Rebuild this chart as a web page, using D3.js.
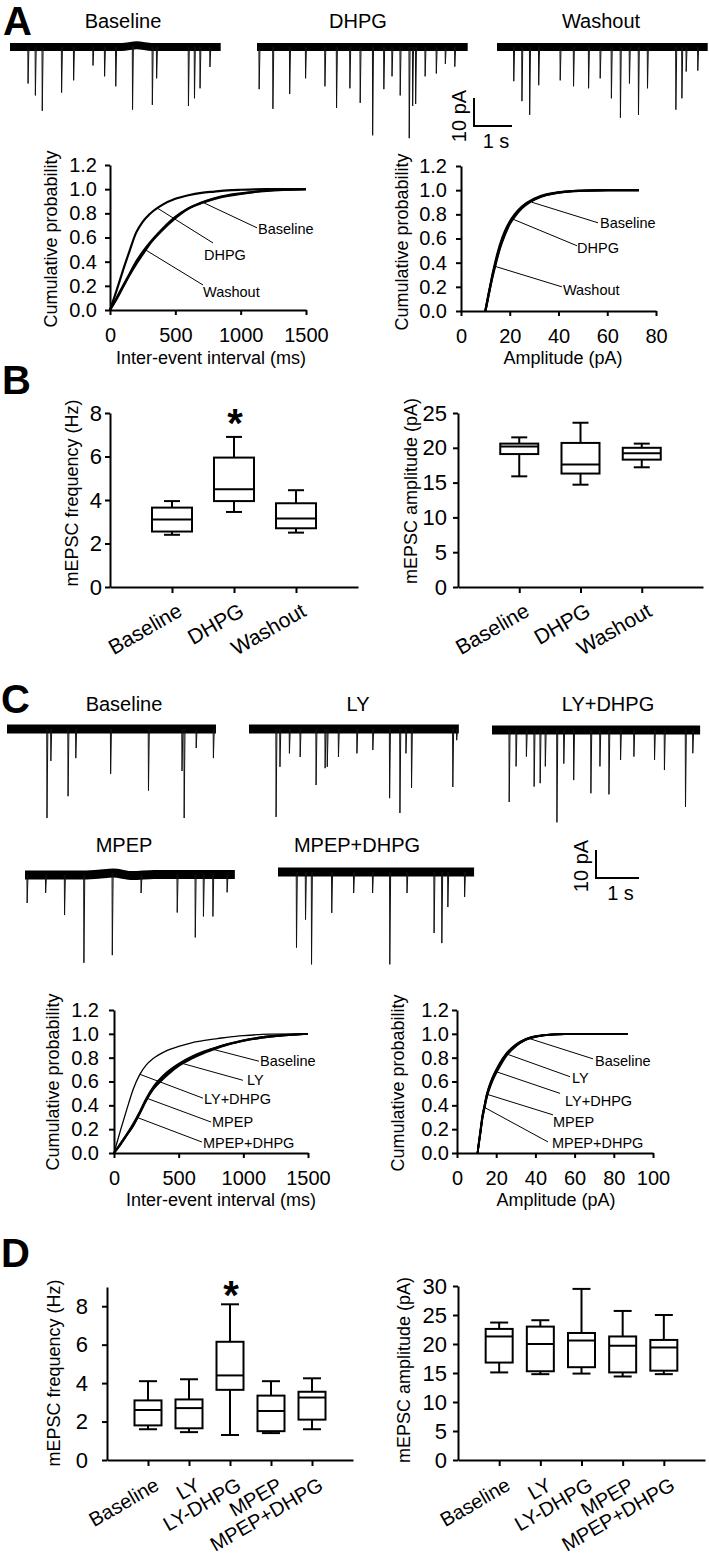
<!DOCTYPE html>
<html>
<head>
<meta charset="utf-8">
<script src="https://cdn.jsdelivr.net/npm/d3@7"></script>
<style>
  body { margin: 0; background: #fff; }
  svg text { font-family: "Liberation Sans", Arial, Helvetica, sans-serif; fill: #000; }
</style>
</head>
<body>
<svg id="figure" width="709" height="1557"></svg>
<script>
// ---------- data ----------

// example traces: events as [time (s), amplitude (pA)], drift as [time (s), offset (pA)]
const A_TRACE_NAMES = ['Baseline', 'DHPG', 'Washout'];
const A_DURATIONS = [4.9, 4.9, 4.9];
const A_BASELINE_EVENTS = [[0.42,12.8],[0.59,17],[0.75,22.4],[1.2,16],[1.48,11.7],[1.93,6.5],[2.2,10.3],[2.46,13.8],[2.85,22.4],[3.31,20.3],[3.41,11],[4.15,20.7],[4.29,18],[4.42,14.5],[4.65,7]];
const A_DHPG_EVENTS = [[0.05,14.8],[0.37,21.7],[0.76,16.5],[1.13,11],[1.58,13.8],[1.85,21.4],[2.16,14.5],[2.4,19.6],[2.69,31],[2.95,14.8],[3.14,10.3],[3.33,17],[3.54,32],[3.62,20.7],[3.69,20],[3.91,10.3],[4.17,9.3],[4.38,5.9],[4.6,6.9]];
const A_WASHOUT_EVENTS = [[0.39,12],[0.58,19],[0.76,23.8],[0.97,13.4],[1.47,11.7],[1.78,13.8],[2.13,14.5],[2.4,11],[2.66,18],[2.87,24.8],[3.08,12.8],[3.29,23.8],[3.5,14.5],[4.16,22],[4.3,18],[4.4,8.6],[4.67,8.3]];
const A_BASELINE_DRIFT = [[0,0],[2.6,0],[2.95,0.6],[3.3,0],[4.9,0]];
const A_FLAT_DRIFT = [[0,0],[4.9,0]];

const C_TRACE_NAMES = ['Baseline', 'LY', 'LY+DHPG', 'MPEP', 'MPEP+DHPG'];
const C_DURATIONS = [4.86, 4.88, 4.84, 4.88, 4.56];
const C_BASELINE_EVENTS = [[0.93,31.8],[1.02,11.4],[1.42,24],[1.6,10.4],[2.41,16],[3.29,22],[4.07,15],[4.12,31.8],[4.4,6.8],[4.8,10.4]];
const C_LY_EVENTS = [[0.63,31.4],[0.72,13.5],[0.94,8.7],[1.19,10],[1.56,20],[1.77,14],[1.82,13.5],[2.08,10],[2.51,8.7],[2.88,7.5],[3.27,24.7],[3.51,30],[3.65,8.7],[3.78,21],[4.74,20.7],[4.83,4]];
const C_LYDHPG_EVENTS = [[0.4,25.7],[0.56,13],[0.8,9.5],[0.98,20.2],[1.12,19],[1.24,13],[1.51,33],[1.67,12],[1.9,17.9],[2.3,22.6],[2.51,13],[2.72,23],[2.99,10.7],[3.3,9.5],[3.78,10.7],[4.01,14.3],[4.5,27.5],[4.67,8.3]];
const C_MPEP_EVENTS = [[0.05,10],[0.48,6.4],[0.92,14.3],[1.37,31.4],[2.03,29.3],[2.7,6.4],[3.54,13.6],[3.96,22.5],[4.15,15],[4.37,15],[4.7,6.4]];
const C_MPEPDHPG_EVENTS = [[0.43,27],[0.64,17],[0.78,33],[1.25,14.6],[1.76,7.5],[2.2,7.5],[2.6,33],[3.0,7.5],[3.63,21.8],[3.81,25.4],[3.95,12.5],[4.34,8.9]];
const C_MPEP_DRIFT = [[0,0],[1.3,0],[1.7,0.3],[2.05,0.7],[2.5,-0.2],[3.0,0.2],[4.88,0.2]];

// cumulative probability curves
const CUM_TICKS = [0, 0.2, 0.4, 0.6, 0.8, 1.0, 1.2];
const A_IEI_MS = [0, 50, 100, 150, 200, 250, 300, 400, 500, 600, 700, 800, 900, 1000, 1200, 1500];
const A_IEI_BASELINE = [0, 0.09, 0.19, 0.29, 0.38, 0.46, 0.54, 0.66, 0.76, 0.84, 0.89, 0.925, 0.95, 0.965, 0.985, 1.0];
const A_IEI_DHPG     = [0, 0.16, 0.33, 0.49, 0.64, 0.73, 0.79, 0.87, 0.92, 0.95, 0.97, 0.98, 0.99, 0.995, 1.0, 1.0];
const A_IEI_WASHOUT  = [0, 0.1, 0.2, 0.3, 0.4, 0.48, 0.55, 0.67, 0.77, 0.84, 0.885, 0.92, 0.945, 0.96, 0.99, 1.0];

const A_AMP_PA = [10, 11, 12, 13, 14, 15, 16, 18, 20, 22, 25, 30, 35, 40, 50, 60, 73];
const A_AMP_BASELINE = [0, 0.1, 0.2, 0.3, 0.38, 0.46, 0.53, 0.64, 0.73, 0.79, 0.86, 0.925, 0.96, 0.98, 0.995, 1.0, 1.0];
const A_AMP_DHPG     = [0, 0.11, 0.21, 0.31, 0.4, 0.48, 0.55, 0.66, 0.74, 0.8, 0.865, 0.93, 0.965, 0.983, 0.996, 1.0, 1.0];
const A_AMP_WASHOUT  = [0, 0.1, 0.2, 0.29, 0.37, 0.45, 0.52, 0.63, 0.72, 0.78, 0.85, 0.92, 0.96, 0.98, 0.995, 1.0, 1.0];

const C_IEI_MS = [0, 50, 100, 150, 200, 250, 300, 400, 500, 600, 700, 800, 900, 1000, 1200, 1500];
const C_IEI_BASELINE  = [0, 0.07, 0.15, 0.23, 0.33, 0.44, 0.53, 0.64, 0.73, 0.79, 0.84, 0.88, 0.915, 0.94, 0.975, 1.0];
const C_IEI_LY        = [0, 0.08, 0.16, 0.24, 0.34, 0.45, 0.54, 0.66, 0.74, 0.8, 0.85, 0.89, 0.92, 0.945, 0.98, 1.0];
const C_IEI_LYDHPG    = [0, 0.19, 0.37, 0.54, 0.66, 0.74, 0.79, 0.855, 0.895, 0.925, 0.945, 0.96, 0.975, 0.985, 0.997, 1.0];
const C_IEI_MPEP      = [0, 0.07, 0.15, 0.23, 0.34, 0.45, 0.53, 0.65, 0.735, 0.8, 0.845, 0.885, 0.915, 0.94, 0.975, 1.0];
const C_IEI_MPEPDHPG  = [0, 0.08, 0.16, 0.25, 0.35, 0.46, 0.55, 0.67, 0.75, 0.81, 0.855, 0.89, 0.92, 0.945, 0.98, 1.0];

const C_AMP_PA = [10.5, 11, 12, 13, 14, 15, 16, 18, 20, 22, 25, 30, 35, 40, 50, 60, 87];
const C_AMP_BASELINE = [0, 0.06, 0.18, 0.3, 0.38, 0.46, 0.52, 0.61, 0.68, 0.74, 0.82, 0.9, 0.95, 0.975, 0.995, 1.0, 1.0];
const C_AMP_LY       = [0, 0.07, 0.19, 0.31, 0.39, 0.47, 0.53, 0.62, 0.69, 0.75, 0.83, 0.905, 0.955, 0.978, 0.996, 1.0, 1.0];
const C_AMP_LYDHPG   = [0, 0.06, 0.17, 0.29, 0.37, 0.45, 0.51, 0.6, 0.67, 0.73, 0.81, 0.895, 0.948, 0.975, 0.995, 1.0, 1.0];
const C_AMP_MPEP     = [0, 0.07, 0.2, 0.32, 0.4, 0.48, 0.54, 0.63, 0.7, 0.76, 0.83, 0.91, 0.955, 0.98, 0.996, 1.0, 1.0];
const C_AMP_MPEPDHPG = [0, 0.06, 0.18, 0.3, 0.39, 0.47, 0.53, 0.62, 0.69, 0.75, 0.82, 0.9, 0.95, 0.976, 0.995, 1.0, 1.0];

// box plots: whisker min, Q1, median, Q3, whisker max
const B_GROUPS = ['Baseline', 'DHPG', 'Washout'];
const B_FREQ_MIN = [2.4, 3.45, 2.5];
const B_FREQ_Q1  = [2.55, 3.95, 2.7];
const B_FREQ_MED = [3.1, 4.5, 3.15];
const B_FREQ_Q3  = [3.65, 5.95, 3.85];
const B_FREQ_MAX = [3.95, 6.9, 4.45];
const B_AMP_MIN = [15.9, 14.7, 17.2];
const B_AMP_Q1  = [19.1, 16.3, 18.3];
const B_AMP_MED = [20.2, 17.6, 19.2];
const B_AMP_Q3  = [20.6, 20.7, 20.0];
const B_AMP_MAX = [21.5, 23.6, 20.6];

const D_GROUPS = ['Baseline', 'LY', 'LY-DHPG', 'MPEP', 'MPEP+DHPG'];
const D_FREQ_MIN = [1.6, 1.45, 1.3, 1.4, 1.6];
const D_FREQ_Q1  = [1.8, 1.65, 3.65, 1.5, 2.1];
const D_FREQ_MED = [2.6, 2.7, 4.4, 2.55, 3.25];
const D_FREQ_Q3  = [3.1, 3.15, 6.15, 3.35, 3.55];
const D_FREQ_MAX = [4.1, 4.2, 8.1, 4.1, 4.25];
const D_AMP_MIN = [15.1, 14.8, 14.9, 14.4, 14.8];
const D_AMP_Q1  = [16.8, 15.3, 16.0, 15.1, 15.4];
const D_AMP_MED = [21.3, 20.0, 20.6, 19.7, 19.4];
const D_AMP_Q3  = [22.6, 23.0, 21.9, 21.3, 20.7];
const D_AMP_MAX = [23.7, 24.1, 29.5, 25.7, 25.0];

// ---------- drawing ----------
const svg = d3.select('#figure');

function addText(g, x, y, txt, size, extra) {
  const t = g.append('text').attr('x', x).attr('y', y).attr('font-size', size).text(txt);
  if (extra) Object.entries(extra).forEach(([k, v]) => t.attr(k, v));
  return t;
}

function vTitle(g, xBase, yMid, txt, size) {
  g.append('text')
    .attr('transform', `translate(${xBase},${yMid}) rotate(-90)`)
    .attr('text-anchor', 'middle')
    .attr('font-size', size)
    .text(txt);
}

function styleAxis(g, size) {
  g.attr('font-family', null).attr('font-size', null);
  g.select('.domain').attr('stroke-width', 2);
  g.selectAll('.tick line').attr('stroke-width', 2);
  g.selectAll('.tick text').attr('font-size', size).attr('fill', '#000');
}

// panel letters
[['A', 3, 35], ['B', 2, 394], ['C', 1, 713], ['D', 1, 1267]].forEach(([l, x, y]) =>
  addText(svg, x, y, l, 40, {'font-weight': 'bold'}));

function drawTrace(g, tr) {
  const x = d3.scaleLinear().domain([0, tr.dur]).range([tr.x0, tr.x0 + tr.dur * tr.pxPerS]);
  const y = d3.scaleLinear().domain([0, -10]).range([tr.y0, tr.y0 + tr.px10pA]);
  const drift = tr.drift || [[0, 0], [tr.dur, 0]];
  const base = d3.scaleLinear().domain(drift.map(d => d[0])).range(drift.map(d => d[1]));
  const line = d3.line().x(d => x(d[0])).y(d => y(d[1]));

  g.append('path').attr('d', line.curve(d3.curveMonotoneX)(drift))
    .attr('fill', 'none').attr('stroke', '#000').attr('stroke-width', tr.band);
  line.curve(d3.curveLinear);

  g.append('g').selectAll('path').data(tr.events).join('path')
    .attr('d', d => line([[d[0] - 0.006, base(d[0])], [d[0], base(d[0]) - d[1]], [d[0] + 0.02, base(d[0])]]))
    .attr('fill', 'none').attr('stroke', '#111').attr('stroke-width', 1);

  addText(g, tr.titleX, tr.titleY, tr.name, 20, {'text-anchor': 'middle'});
}

function scaleBar(g, sb) {
  const x = d3.scaleLinear().domain([0, 1]).range([sb.x, sb.x + sb.pxPerS]);
  const y = d3.scaleLinear().domain([0, 10]).range([sb.y, sb.y - sb.px10pA]);
  g.append('path')
    .attr('d', d3.line()([[x(0), y(10)], [x(0), y(0)], [x(1), y(0)]]))
    .attr('fill', 'none').attr('stroke', '#000').attr('stroke-width', 2);
  vTitle(g, x(0) - 8, sb.labelMid, '10 pA', 20);
  addText(g, (x(0) + x(1)) / 2 + 3, y(0) + 22, '1 s', 20, {'text-anchor': 'middle'});
}

// Panel A traces
const gA = svg.append('g');
[A_BASELINE_EVENTS, A_DHPG_EVENTS, A_WASHOUT_EVENTS].forEach((ev, i) => {
  drawTrace(gA, {
    name: A_TRACE_NAMES[i], events: ev, dur: A_DURATIONS[i],
    drift: i === 0 ? A_BASELINE_DRIFT : A_FLAT_DRIFT,
    x0: [10, 257, 497][i], y0: 47, pxPerS: 43, px10pA: 28.5, band: 8,
    titleX: [123, 358, 601][i], titleY: 28
  });
});
scaleBar(gA, {x: 474, y: 126, pxPerS: 38, px10pA: 28, labelMid: 116});

// Panel C traces
const gC = svg.append('g');
[C_BASELINE_EVENTS, C_LY_EVENTS, C_LYDHPG_EVENTS, C_MPEP_EVENTS, C_MPEPDHPG_EVENTS].forEach((ev, i) => {
  drawTrace(gC, {
    name: C_TRACE_NAMES[i], events: ev, dur: C_DURATIONS[i],
    drift: i === 3 ? C_MPEP_DRIFT : null,
    x0: [7, 249, 492, 25, 278][i], y0: [729, 729, 730, 875, 872][i],
    pxPerS: 43, px10pA: 28, band: 9,
    titleX: [124, 358, 608, 124, 357][i], titleY: i < 3 ? 711 : 852
  });
});
scaleBar(gC, {x: 596, y: 878, pxPerS: 43, px10pA: 28, labelMid: 866});

// cumulative probability plots
function cumulativeChart(c) {
  const g = svg.append('g');
  const x = d3.scaleLinear().domain(c.xDomain).range(c.xRange);
  const y = d3.scaleLinear().domain([0, 1.2]).range(c.yRange);

  const xa = g.append('g').attr('transform', `translate(0,${c.yRange[0]})`)
    .call(d3.axisBottom(x).tickValues(c.xTicks).tickSize(5).tickSizeOuter(0).tickPadding(13).tickFormat(d3.format('d')));
  styleAxis(xa, 20);
  const ya = g.append('g').attr('transform', `translate(${c.xRange[0]},0)`)
    .call(d3.axisLeft(y).tickValues(CUM_TICKS).tickSize(5).tickSizeOuter(0).tickPadding(c.yPad).tickFormat(d3.format('.1f')));
  styleAxis(ya, 20);

  const line = d3.line().curve(d3.curveMonotoneX).x((d, i) => x(c.grid[i])).y(d => y(d));
  c.series.forEach((s, i) => g.append('path').attr('d', line(s))
    .attr('fill', 'none').attr('stroke', '#000').attr('stroke-width', c.widths[i]).attr('stroke-linejoin', 'round'));

  c.labels.forEach(([txt, x1, y1, x2, y2, dx, dy]) => {
    g.append('line').attr('x1', x(x1)).attr('y1', y(y1)).attr('x2', x(x2)).attr('y2', y(y2))
      .attr('stroke', '#000').attr('stroke-width', 1);
    addText(g, x(x2) + dx, y(y2) + dy, txt, 14.5);
  });

  vTitle(g, c.yTitleX, c.yTitleMid, 'Cumulative probability', 18);
  addText(g, c.xTitleMid, c.xTitleY, c.xTitle, 18, {'text-anchor': 'middle'});
}

cumulativeChart({
  xDomain: [0, 1500], xRange: [110, 306], yRange: [310, 165], xTicks: [0, 500, 1000, 1500], yPad: 8,
  grid: A_IEI_MS, series: [A_IEI_BASELINE, A_IEI_DHPG, A_IEI_WASHOUT], widths: [2.2, 2.2, 2.2],
  labels: [['Baseline', 712, 0.89, 1125, 0.68, 1, 6], ['DHPG', 360, 0.845, 788, 0.555, -9, 17], ['Washout', 268, 0.5, 712, 0.207, 0, 12]],
  yTitleX: 57, yTitleMid: 239, xTitle: 'Inter-event interval (ms)', xTitleMid: 211, xTitleY: 364
});
cumulativeChart({
  xDomain: [0, 80], xRange: [461, 656], yRange: [311, 166], xTicks: [0, 20, 40, 60, 80], yPad: 9,
  grid: A_AMP_PA, series: [A_AMP_BASELINE, A_AMP_DHPG, A_AMP_WASHOUT], widths: [2.2, 2.2, 2.2],
  labels: [['Baseline', 29.1, 0.90, 56.2, 0.73, 2, 5], ['DHPG', 21.3, 0.76, 47.6, 0.54, 0, 7], ['Washout', 13.9, 0.37, 41.4, 0.20, 1, 8]],
  yTitleX: 408, yTitleMid: 242, xTitle: 'Amplitude (pA)', xTitleMid: 563, xTitleY: 364
});
cumulativeChart({
  xDomain: [0, 1500], xRange: [114, 308], yRange: [1153, 1010], xTicks: [0, 500, 1000, 1500], yPad: 10,
  grid: C_IEI_MS, series: [C_IEI_BASELINE, C_IEI_LY, C_IEI_MPEP, C_IEI_MPEPDHPG, C_IEI_LYDHPG], widths: [1.7, 1.7, 1.7, 1.7, 1.3],
  labels: [['Baseline', 766, 0.87, 1121, 0.77, 1, 5], ['LY', 534, 0.75, 997, 0.61, 4, 5], ['LY+DHPG', 201, 0.66, 688, 0.46, 1, 6],
           ['MPEP', 252, 0.46, 750, 0.26, 1, 5], ['MPEP+DHPG', 175, 0.3, 680, 0.092, 1, 6]],
  yTitleX: 59, yTitleMid: 1082, xTitle: 'Inter-event interval (ms)', xTitleMid: 221, xTitleY: 1206
});
cumulativeChart({
  xDomain: [0, 100], xRange: [457, 653], yRange: [1153, 1010], xTicks: [0, 20, 40, 60, 80, 100], yPad: 3,
  grid: C_AMP_PA, series: [C_AMP_BASELINE, C_AMP_LY, C_AMP_LYDHPG, C_AMP_MPEP, C_AMP_MPEPDHPG], widths: [1.8, 1.8, 1.8, 1.8, 1.8],
  labels: [['Baseline', 37, 0.96, 69.4, 0.79, 2, 7], ['LY', 25.5, 0.83, 57.7, 0.64, 2, 6], ['LY+DHPG', 20.4, 0.68, 52.6, 0.5, 5, 13],
           ['MPEP', 15.8, 0.49, 49, 0.32, 0, 12], ['MPEP+DHPG', 14.3, 0.38, 46.4, 0.093, 4, 6]],
  yTitleX: 404, yTitleMid: 1083, xTitle: 'Amplitude (pA)', xTitleMid: 556, xTitleY: 1206
});

// box plots
function boxChart(c) {
  const g = svg.append('g');
  const x = d3.scalePoint().domain(c.groups).range(c.xRange).padding(1);
  const y = d3.scaleLinear().domain(c.yDomain).range(c.yRange);

  const xa = g.append('g').attr('transform', `translate(0,${c.yRange[0]})`)
    .call(d3.axisBottom(x).tickSize(6).tickSizeOuter(0));
  styleAxis(xa, c.xFont);
  xa.selectAll('.tick text')
    .attr('y', 0).attr('dy', null).attr('text-anchor', 'end')
    .attr('transform', `translate(${c.lblDx},${c.lblDy}) rotate(-30)`);

  const ya = g.append('g').attr('transform', `translate(${c.xRange[0]},0)`)
    .call(d3.axisLeft(y).tickValues(c.yTicks).tickSize(5).tickSizeOuter(0).tickPadding(c.yPad));
  styleAxis(ya, 22);

  c.groups.forEach((grp, i) => {
    const cx = x(grp);
    const st = {min: c.min[i], q1: c.q1[i], med: c.med[i], q3: c.q3[i], max: c.max[i]};
    const seg = (x1, y1, x2, y2) => g.append('line').attr('x1', x1).attr('y1', y1).attr('x2', x2).attr('y2', y2)
      .attr('stroke', '#000').attr('stroke-width', 2);
    seg(cx, y(st.min), cx, y(st.q1));
    seg(cx, y(st.q3), cx, y(st.max));
    seg(cx - c.capW / 2, y(st.min), cx + c.capW / 2, y(st.min));
    seg(cx - c.capW / 2, y(st.max), cx + c.capW / 2, y(st.max));
    g.append('rect').attr('x', cx - c.boxW / 2).attr('y', y(st.q3))
      .attr('width', c.boxW).attr('height', y(st.q1) - y(st.q3))
      .attr('fill', '#fff').attr('stroke', '#000').attr('stroke-width', 2);
    seg(cx - c.boxW / 2, y(st.med), cx + c.boxW / 2, y(st.med));
    if (c.star === grp) {
      addText(g, cx + 1, y(st.max) + c.starDy, '*', 40, {'text-anchor': 'middle', 'font-weight': 'bold'});
    }
  });

  vTitle(g, c.yTitleX, c.yTitleMid, c.yTitle, 18);
}

boxChart({
  groups: B_GROUPS, xRange: [110, 358], yDomain: [0, 8], yRange: [587, 413], yTicks: [0, 2, 4, 6, 8], yPad: 3,
  min: B_FREQ_MIN, q1: B_FREQ_Q1, med: B_FREQ_MED, q3: B_FREQ_Q3, max: B_FREQ_MAX,
  boxW: 40, capW: 16, xFont: 21, lblDx: 11, lblDy: 28, star: 'DHPG', starDy: 0,
  yTitle: 'mEPSC frequency (Hz)', yTitleX: 78, yTitleMid: 493
});
boxChart({
  groups: B_GROUPS, xRange: [458, 703], yDomain: [0, 25], yRange: [587, 413], yTicks: [0, 5, 10, 15, 20, 25], yPad: 6,
  min: B_AMP_MIN, q1: B_AMP_Q1, med: B_AMP_MED, q3: B_AMP_Q3, max: B_AMP_MAX,
  boxW: 38, capW: 16, xFont: 21, lblDx: 11, lblDy: 28,
  yTitle: 'mEPSC amplitude (pA)', yTitleX: 417, yTitleMid: 491
});
boxChart({
  groups: D_GROUPS, xRange: [107, 353], yDomain: [0, 9], yRange: [1460, 1287], yTicks: [0, 2, 4, 6, 8], yPad: 14,
  min: D_FREQ_MIN, q1: D_FREQ_Q1, med: D_FREQ_MED, q3: D_FREQ_Q3, max: D_FREQ_MAX,
  boxW: 27, capW: 18, xFont: 20, lblDx: 12, lblDy: 29, star: 'LY-DHPG', starDy: 5,
  yTitle: 'mEPSC frequency (Hz)', yTitleX: 60, yTitleMid: 1373
});
boxChart({
  groups: D_GROUPS, xRange: [458, 705], yDomain: [0, 30], yRange: [1460, 1286], yTicks: [0, 5, 10, 15, 20, 25, 30], yPad: 6,
  min: D_AMP_MIN, q1: D_AMP_Q1, med: D_AMP_MED, q3: D_AMP_Q3, max: D_AMP_MAX,
  boxW: 27, capW: 18, xFont: 20, lblDx: 12, lblDy: 29,
  yTitle: 'mEPSC amplitude (pA)', yTitleX: 410, yTitleMid: 1370
});
</script>
</body>
</html>
